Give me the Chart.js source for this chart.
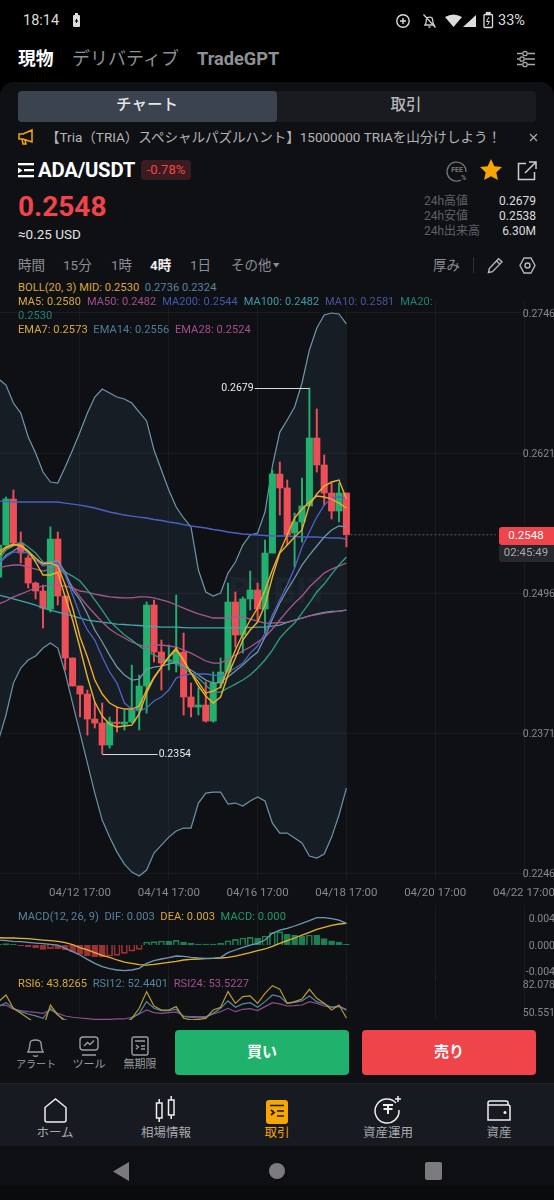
<!DOCTYPE html>
<html lang="ja"><head><meta charset="utf-8">
<script src="https://cdn.jsdelivr.net/npm/chart.js@4"></script>
<style>
html,body{margin:0;padding:0;background:#000;}
body{width:554px;height:1200px;overflow:hidden;position:relative;font-family:Roboto,"Noto Sans CJK JP",sans-serif;color:#ddd;}
.abs{position:absolute}
.t{position:absolute;white-space:nowrap;transform:translateY(-50%);line-height:1.2}
.c{transform:translate(-50%,-50%);text-align:center}
.r{transform:translate(-100%,-50%)}
canvas{position:absolute;left:0;display:block}
svg{position:absolute;overflow:visible}
.ind{font-size:11.1px;letter-spacing:.05px}
</style></head><body>
<div class="abs" style="left:0;top:82px;width:554px;height:960px;background:#0f1014;border-radius:14px 14px 0 0"></div>

<div class="t" style="left:23px;top:21px;font-size:14.5px;color:#ddd">18:14</div>
<svg style="left:72px;top:13px" width="9" height="15"><rect x="1" y="2" width="7" height="12" rx="1" fill="#ddd"/><rect x="3" y="0" width="3" height="2" fill="#ddd"/><path d="M4.5 6v4M2.8 8h3.4" stroke="#000" stroke-width="1"/></svg>
<svg style="left:395px;top:13px" width="16" height="16" fill="none" stroke="#ddd" stroke-width="1.4"><circle cx="8" cy="8" r="6.2"/><path d="M8 5v6M5 8h6"/></svg>
<svg style="left:422px;top:13px" width="15" height="16" fill="none" stroke="#ccc" stroke-width="1.3"><path d="M3 12c1.5-2 1-4 1.500-6C5 3.500 10 3.500 10.500 6c.5 2 0 4 1.500 6zM6.500 14h2M1.500 1.500l12 13"/></svg>
<svg style="left:445px;top:14px" width="32" height="14"><path d="M0 3q8.500-5 17 0L8.500 13z" fill="#ddd"/><path d="M18 13L31 1v12z" fill="#ddd"/></svg>
<svg style="left:483px;top:12px" width="11" height="17" fill="none" stroke="#ddd" stroke-width="1.3"><rect x="1" y="2.500" width="8.500" height="13" rx="1"/><rect x="3.500" y=".5" width="3.500" height="2" fill="#ddd"/><path d="M6 5L3.500 9.500h3L4.500 13" stroke-width="1"/></svg>
<div class="t" style="left:498px;top:21px;font-size:14.5px;color:#ddd">33%</div>

<div class="t" style="left:18px;top:59px;font-size:17.8px;font-weight:700;color:#fff">現物</div>
<div class="t" style="left:72px;top:59px;font-size:18px;color:#8e9096">デリバティブ</div>
<div class="t" style="left:197px;top:59px;font-size:18.2px;font-weight:700;color:#8e9096">TradeGPT</div>
<svg style="left:517px;top:50px" width="18" height="18" fill="none" stroke="#aaa" stroke-width="1.300"><path d="M0 3.500h5M11 3.500h7M0 9h2M8 9h10M0 14.500h5M11 14.500h7"/><circle cx="8" cy="3.500" r="2.200"/><circle cx="5" cy="9" r="2.200"/><circle cx="8" cy="14.500" r="2.200"/></svg>

<div class="abs" style="left:18px;top:91px;width:518px;height:31px;background:#191b21;border-radius:4px"></div>
<div class="abs" style="left:18px;top:91px;width:259px;height:31px;background:#3b434e;border-radius:4px"></div>
<div class="t c" style="left:147px;top:105px;font-size:15.5px;font-weight:500;color:#e6e6e6">チャート</div>
<div class="t c" style="left:406px;top:105px;font-size:15.5px;font-weight:500;color:#b5b7bb">取引</div>

<svg style="left:18px;top:129px" width="16" height="16" fill="none" stroke="#f7a600" stroke-width="1.500"><path d="M1 5h4l9-4v12L5 10H1zM4 10l1 5h3l-1-4"/></svg>
<div class="t" style="left:46px;top:137px;font-size:13.55px;color:#b4b5b8;letter-spacing:-.02px">【Tria（TRIA）スペシャルパズルハント】15000000 TRIAを山分けしよう！</div>
<svg style="left:529px;top:133px" width="9" height="9" stroke="#aaa" stroke-width="1.200"><path d="M1 1l7 7M8 1L1 8"/></svg>

<svg style="left:18px;top:163px" width="16" height="15" fill="#fff"><rect x="0" y="0" width="16" height="2.300"/><rect x="6" y="6" width="10" height="2.300"/><path d="M0 4.500l4.500 3-4.500 3z"/><rect x="0" y="12" width="16" height="2.300"/></svg>
<div class="t" style="left:38px;top:170px;font-size:20.3px;font-weight:700;color:#fff;letter-spacing:-.2px">ADA/USDT</div>
<div class="abs" style="left:141px;top:160px;width:50px;height:20px;background:#3a1c20;border-radius:4px"></div>
<div class="t c" style="left:166px;top:170px;font-size:13px;color:#ef454a">-0.78%</div>
<svg style="left:446px;top:160px" width="22" height="22" fill="none" stroke="#777" stroke-width="1.300"><path d="M15 20a9.500 9.500 0 1 1 5-8"/></svg>
<div class="t c" style="left:457px;top:170px;font-size:7px;font-weight:700;color:#777">FEE</div>
<div class="t" style="left:461px;top:178px;font-size:7px;font-weight:700;color:#777">%</div>
<svg style="left:480px;top:159px" width="22" height="22" fill="#f7a600"><path d="M11 0l3.300 7.200 7.700.9-5.700 5.300 1.600 7.700L11 17.200 4.100 21.100l1.600-7.700L0 8.100l7.700-.9z"/></svg>
<svg style="left:517px;top:161px" width="20" height="20" fill="none" stroke="#ccc" stroke-width="1.500"><path d="M9 2.500H1.500v16h16V11M12 1h7v7M19 1L8 12"/></svg>

<div class="t" style="left:18px;top:207px;font-size:28px;font-weight:700;color:#ef454a">0.2548</div>
<div class="t" style="left:18px;top:234px;font-size:13.500px;color:#e2e2e2">≈0.25 USD</div>
<div class="t" style="left:424px;top:201px;font-size:12px;color:#5e6066">24h高値</div>
<div class="t" style="left:424px;top:216px;font-size:12px;color:#5e6066">24h安値</div>
<div class="t" style="left:424px;top:231px;font-size:12px;color:#5e6066">24h出来高</div>
<div class="t r" style="left:536px;top:201px;font-size:12px;color:#ddd">0.2679</div>
<div class="t r" style="left:536px;top:216px;font-size:12px;color:#ddd">0.2538</div>
<div class="t r" style="left:536px;top:231px;font-size:12px;color:#ddd">6.30M</div>

<div class="t" style="left:18px;top:265px;font-size:13.500px;color:#8b8e94">時間</div>
<div class="t" style="left:63px;top:265px;font-size:13.500px;color:#8b8e94">15分</div>
<div class="t" style="left:111px;top:265px;font-size:13.500px;color:#8b8e94">1時</div>
<div class="t" style="left:150px;top:265px;font-size:13.500px;font-weight:700;color:#eee">4時</div>
<div class="t" style="left:190px;top:265px;font-size:13.500px;color:#8b8e94">1日</div>
<div class="t" style="left:231px;top:265px;font-size:13.500px;color:#8b8e94">その他</div>
<svg style="left:273px;top:263px" width="7" height="5" fill="#8b8e94"><path d="M0 0h6.500L3.200 4.500z"/></svg>
<div class="t" style="left:433px;top:265px;font-size:13.500px;color:#8b8e94">厚み</div>
<div class="abs" style="left:473px;top:257px;width:1px;height:16px;background:#2b2d33"></div>
<svg style="left:487px;top:257px" width="17" height="17" fill="none" stroke="#b5b7bb" stroke-width="1.400"><path d="M1.500 15.500l.8-4L11.500 1.700l3.500 3.200-9.500 9.800zM9.500 4l3.500 3.200"/></svg>
<svg style="left:519px;top:257px" width="17" height="17" fill="none" stroke="#b5b7bb" stroke-width="1.400"><path d="M5 1h7l4 7.500-4 7.500H5L1 8.500z"/><circle cx="8.500" cy="8.500" r="2.500"/></svg>

<div class="t" style="left:228px;top:592px;font-size:36px;font-weight:900;color:rgba(255,255,255,.035)">BYBIT</div>

<canvas id="mainChart" width="554" height="600" style="top:300px"></canvas>
<canvas id="macdChart" width="554" height="75" style="top:905px"></canvas>
<canvas id="rsiChart" width="554" height="50" style="top:975px"></canvas>

<div class="t ind" style="left:18px;top:288px"><span style="color:#d9a93a">BOLL(20, 3) MID: 0.2530</span>&nbsp; <span style="color:#53849f">0.2736 0.2324</span></div>
<div class="t ind" style="left:18px;top:302px;font-size:11px;word-spacing:.2px"><span style="color:#d9a93a">MA5: 0.2580</span>&nbsp; <span style="color:#a54e8f">MA50: 0.2482</span>&nbsp; <span style="color:#3f5ab0">MA200: 0.2544</span>&nbsp; <span style="color:#3f9aa8">MA100: 0.2482</span>&nbsp; <span style="color:#47559f">MA10: 0.2581</span>&nbsp; <span style="color:#1f8473">MA20:</span></div>
<div class="t ind" style="left:18px;top:316px;color:#1f8473">0.2530</div>
<div class="t ind" style="left:18px;top:330px"><span style="color:#d9a93a">EMA7: 0.2573</span>&nbsp; <span style="color:#4f7d96">EMA14: 0.2556</span>&nbsp; <span style="color:#a54e8f">EMA28: 0.2524</span></div>
<div class="t ind" style="left:18px;top:917px"><span style="color:#53849f">MACD(12, 26, 9)&nbsp; DIF: 0.003</span>&nbsp; <span style="color:#d9a93a">DEA: 0.003</span>&nbsp; <span style="color:#1f9a6a">MACD: 0.000</span></div>
<div class="t ind" style="left:18px;top:984px"><span style="color:#d9a93a">RSI6: 43.8265</span>&nbsp; <span style="color:#53849f">RSI12: 52.4401</span>&nbsp; <span style="color:#a54e8f">RSI24: 53.5227</span></div>

<div class="abs" style="left:499px;top:527px;width:55px;height:18px;background:#ef454a;border-radius:3px 0 0 3px"></div>
<div class="t c" style="left:526px;top:536px;font-size:11.500px;color:#fff">0.2548</div>
<div class="abs" style="left:499px;top:545px;width:55px;height:17px;background:#26282e;border-radius:0 0 0 3px"></div>
<div class="t c" style="left:526px;top:553px;font-size:11.500px;color:#a8aaae">02:45:49</div>

<div class="abs" style="left:0;top:1020px;width:554px;height:63px;background:#0f1014"></div>
<svg style="left:26px;top:1035px" width="20" height="24" fill="none" stroke="#9a9ca1" stroke-width="1.400"><path d="M2 17c2-3 1.500-6 2-9 .7-4 10.300-4 11 0 .5 3 0 6 2 9zM7 20.500q2.500 1.500 5 0"/></svg>
<div class="t c" style="left:36px;top:1065px;font-size:10px;color:#9a9ca1">アラート</div>
<svg style="left:79px;top:1036px" width="20" height="22" fill="none" stroke="#9a9ca1" stroke-width="1.400"><rect x="1" y="1" width="18" height="13" rx="3"/><path d="M5 10l3.500-3.500 2.500 2 4-4M3 19h14"/></svg>
<div class="t c" style="left:89px;top:1065px;font-size:11px;color:#9a9ca1">ツール</div>
<svg style="left:131px;top:1036px" width="18" height="20" fill="none" stroke="#9a9ca1" stroke-width="1.400"><rect x="1" y="1" width="16" height="18" rx="2"/><path d="M4 5h10M5 9l2.500 2L5 13M10 10h4M10 13h4"/></svg>
<div class="t c" style="left:140px;top:1065px;font-size:11px;color:#9a9ca1">無期限</div>
<div class="abs" style="left:175px;top:1030px;width:174px;height:45px;background:#20b26c;border-radius:4px"></div>
<div class="t c" style="left:262px;top:1052px;font-size:15px;font-weight:700;color:#fff">買い</div>
<div class="abs" style="left:362px;top:1030px;width:174px;height:45px;background:#ef454a;border-radius:4px"></div>
<div class="t c" style="left:449px;top:1052px;font-size:15px;font-weight:700;color:#fff">売り</div>

<div class="abs" style="left:0;top:1083px;width:554px;height:63px;background:#171a21;border-top:1px solid #22252c;box-sizing:border-box"></div>
<svg style="left:44px;top:1098px" width="23" height="26" fill="none" stroke="#eee" stroke-width="1.500"><path d="M1 9.500L11.500 1 22 9.500V22a2 2 0 0 1-2 2H3a2 2 0 0 1-2-2z"/></svg>
<div class="t c" style="left:55px;top:1132px;font-size:12.500px;color:#a8aaae">ホーム</div>
<svg style="left:155px;top:1096px" width="22" height="28" fill="none" stroke="#eee" stroke-width="1.500"><rect x="1.500" y="7" width="5.500" height="15"/><path d="M4.200 3v4M4.200 22v4"/><rect x="13.500" y="4" width="5.500" height="15"/><path d="M16.200 0v4M16.200 19v4"/></svg>
<div class="t c" style="left:166px;top:1132px;font-size:12.500px;color:#a8aaae">相場情報</div>
<div class="abs" style="left:266px;top:1100px;width:22px;height:24px;background:#f7a600;border-radius:3px"></div>
<svg style="left:266px;top:1100px" width="22" height="24" fill="none" stroke="#17191f" stroke-width="1.700"><path d="M4 5.500h14M5 10l3 2.500L5 15M11 11h7M11 16h7"/></svg>
<div class="t c" style="left:277px;top:1132px;font-size:12.500px;color:#f7a600">取引</div>
<svg style="left:375px;top:1096px" width="28" height="28" fill="none" stroke="#eee" stroke-width="1.500"><path d="M21 7a12 12 0 1 0 3 7"/><path d="M8 9h10M13 9v9M8.500 13h9" stroke-width="2"/><path d="M23 0v6M20 3h6"/></svg>
<div class="t c" style="left:388px;top:1132px;font-size:12.500px;color:#a8aaae">資産運用</div>
<svg style="left:487px;top:1100px" width="24" height="22" fill="none" stroke="#eee" stroke-width="1.500"><path d="M1 5V3a2 2 0 0 1 2-2h16a2 2 0 0 1 2 2v2M1 5h20a2 2 0 0 1 2 2v13H1z"/><circle cx="18" cy="12.500" r=".8" fill="#eee"/></svg>
<div class="t c" style="left:499px;top:1132px;font-size:12.500px;color:#a8aaae">資産</div>

<div class="abs" style="left:0;top:1146px;width:554px;height:40px;background:#0e0f13"></div>
<div class="abs" style="left:0;top:1186px;width:554px;height:14px;background:#0a0b0d"></div>
<svg style="left:113px;top:1162px" width="16" height="19" fill="#7b7b7d"><path d="M16 0v19L0 9.500z"/></svg>
<svg style="left:269px;top:1163px" width="17" height="17" fill="#7b7b7d"><circle cx="8" cy="8" r="8"/></svg>
<svg style="left:425px;top:1162px" width="17" height="18" fill="#7b7b7d"><rect width="17" height="18" rx="2"/></svg>

<script>
/* ---------- data ---------- */
const candleIndex=[-1,0,1,2,3,4,5,6,7,8,9,10,11,12,13,14,15,16,17,18,19,20,21,22,23,24,25,26,27,28,29,30,31,32,33,34,35,36,37,38,39,40,41,42,43,44,45,46];
const timeTickIndex=[10,22,34,46,58,70];
const timeTickLabels=["04/12 17:00","04/14 17:00","04/16 17:00","04/18 17:00","04/20 17:00","04/22 17:00"];
const priceTicks=[0.2746,0.2621,0.2496,0.2371,0.2246];
const macdTicks=[0.004,0,-0.004];
const rsiTicks=[82.078,50.551];

const open=[.25102,.25388,.25799,.25406,.25273,.25049,.24978,.24817,.25442,.24933,.24380,.24130,.24058,.23835,.23799,.23603,.23808,.23790,.23808,.23915,.24130,.24853,.24433,.24353,.24335,.24433,.24032,.23942,.23960,.23817,.24156,.24255,.24880,.24585,.24907,.24987,.24817,.25317,.26022,.25898,.25496,.25594,.25737,.26344,.26103,.25853,.25692,.25853];
const close=[.25388,.25799,.25406,.25317,.25049,.24978,.24826,.25442,.24933,.24380,.24130,.24058,.23835,.23799,.23603,.23808,.23795,.23808,.23915,.24130,.24853,.24433,.24335,.24362,.24424,.24032,.23942,.23960,.23817,.24156,.24255,.24880,.24585,.24907,.24987,.24817,.25317,.26022,.25898,.25478,.25594,.25737,.26344,.26103,.25853,.25692,.25853,.25480];
const high=[.25406,.25817,.25880,.25505,.25299,.25058,.25031,.25550,.25505,.24933,.24380,.24130,.24094,.23987,.23978,.23853,.23942,.23915,.24317,.24228,.24880,.24898,.24540,.24496,.24942,.24603,.24156,.24112,.24165,.24255,.24380,.25049,.24969,.24925,.25156,.25049,.25433,.26058,.26130,.25969,.25674,.25987,.26790,.26603,.26192,.25942,.25942,.25853];
const low=[.25076,.25388,.25406,.25228,.25005,.24907,.24648,.24790,.24853,.24273,.24130,.23853,.23692,.23755,.23525,.23576,.23719,.23737,.23800,.23737,.23888,.24344,.24094,.24273,.24255,.23871,.23853,.23871,.23808,.23808,.24112,.24255,.24478,.24424,.24808,.24719,.24603,.25317,.25656,.25388,.25192,.25415,.25737,.26040,.25745,.25621,.25594,.25371];

const bollUpper=[.26871,.26817,.26656,.26567,.26353,.26210,.26040,.25951,.25942,.26085,.26237,.26397,.26567,.26710,.26781,.26746,.26710,.26692,.26656,.26576,.26496,.26237,.26058,.25880,.25728,.25630,.25550,.25165,.24969,.24933,.24960,.25138,.25237,.25388,.25478,.25496,.25683,.26094,.26397,.26505,.26621,.26835,.27130,.27326,.27442,.27460,.27451,.27362];
const bollLower=[.23648,.23871,.24156,.24290,.24362,.24398,.24469,.24514,.24469,.24246,.23978,.23710,.23442,.23174,.22933,.22781,.22647,.22540,.22469,.22433,.22487,.22639,.22710,.22781,.22835,.22862,.22862,.23085,.23174,.23183,.23183,.23076,.23085,.23058,.23103,.23139,.23103,.22906,.22817,.22817,.22772,.22728,.22612,.22594,.22630,.22781,.22978,.23219];
const ma5=[.25291,.25362,.25388,.25388,.25335,.25237,.25121,.25121,.25147,.24925,.24719,.24469,.24210,.23987,.23862,.23790,.23764,.23773,.23781,.23880,.24067,.24201,.24299,.24389,.24469,.24353,.24246,.24130,.24041,.23978,.24032,.24228,.24380,.24540,.24630,.24701,.24853,.25103,.25317,.25388,.25460,.25523,.25745,.25844,.25915,.25951,.25969,.25799];
const ma10=[.25228,.25282,.25326,.25326,.25317,.25255,.25201,.25219,.25228,.25121,.24942,.24764,.24630,.24540,.24389,.24255,.24156,.23978,.23924,.23906,.23933,.23996,.24032,.24094,.24201,.24228,.24237,.24237,.24237,.24228,.24219,.24255,.24291,.24335,.24424,.24487,.24603,.24764,.24898,.25031,.25183,.25371,.25505,.25638,.25745,.25808,.25817,.25808];
const ma20=[.25255,.25344,.25380,.25415,.25371,.25317,.25237,.25210,.25192,.25147,.25111,.25067,.24987,.24898,.24808,.24710,.24648,.24585,.24540,.24487,.24442,.24406,.24380,.24353,.24326,.24291,.24246,.24201,.24138,.24076,.24076,.24112,.24147,.24183,.24228,.24291,.24362,.24451,.24558,.24630,.24692,.24781,.24871,.24969,.25040,.25129,.25210,.25282];
const ma50=[.24862,.24889,.24925,.24951,.24978,.25005,.25022,.25031,.25031,.25022,.25005,.24978,.24969,.24951,.24938,.24925,.24920,.24916,.24916,.24925,.24925,.24916,.24898,.24880,.24853,.24826,.24799,.24773,.24755,.24737,.24737,.24737,.24746,.24746,.24728,.24710,.24692,.24692,.24697,.24701,.24715,.24737,.24755,.24768,.24781,.24790,.24799,.24808];
const ma100=[.24942,.24925,.24907,.24889,.24871,.24853,.24826,.24808,.24790,.24773,.24755,.24737,.24719,.24710,.24701,.24692,.24683,.24679,.24674,.24670,.24665,.24661,.24656,.24656,.24656,.24652,.24648,.24648,.24648,.24648,.24648,.24648,.24648,.24652,.24652,.24656,.24656,.24665,.24674,.24697,.24719,.24737,.24755,.24773,.24786,.24795,.24799,.24808];
const ma200=[.25781,.25777,.25772,.25772,.25772,.25772,.25772,.25772,.25772,.25763,.25754,.25745,.25732,.25719,.25701,.25683,.25670,.25656,.25647,.25638,.25630,.25616,.25607,.25594,.25585,.25571,.25558,.25550,.25541,.25527,.25518,.25505,.25496,.25487,.25482,.25478,.25473,.25469,.25469,.25469,.25464,.25460,.25460,.25460,.25455,.25451,.25451,.25442];
const ema7=[.25326,.25371,.25397,.25380,.25335,.25273,.25219,.25228,.25201,.25031,.24826,.24567,.24389,.24183,.24058,.23978,.23942,.23924,.23924,.23951,.24094,.24210,.24299,.24389,.24451,.24362,.24246,.24165,.24067,.24085,.24121,.24291,.24451,.24594,.24719,.24826,.24987,.25165,.25326,.25478,.25630,.25710,.25772,.25826,.25817,.25799,.25763,.25719];
const ema14=[.25210,.25299,.25335,.25380,.25317,.25255,.25228,.25237,.25246,.25147,.24987,.24898,.24773,.24630,.24523,.24406,.24299,.24228,.24183,.24192,.24281,.24299,.24308,.24326,.24344,.24308,.24273,.24228,.24183,.24156,.24165,.24210,.24264,.24317,.24380,.24433,.24567,.24728,.24871,.24987,.25094,.25210,.25299,.25380,.25460,.25523,.25558,.25550];
const ema28=[.25183,.25201,.25210,.25210,.25192,.25174,.25156,.25174,.25201,.25121,.25014,.24925,.24844,.24773,.24701,.24639,.24594,.24558,.24523,.24496,.24478,.24496,.24496,.24487,.24478,.24451,.24424,.24389,.24353,.24335,.24335,.24371,.24406,.24442,.24478,.24523,.24567,.24639,.24719,.24799,.24871,.24933,.25014,.25076,.25138,.25174,.25201,.25228];

const macdDif=[.00075,.00065,.00055,.00050,.00040,.00030,.00020,.00010,0,-.00050,-.00101,-.00151,-.00216,-.00277,-.00327,-.00357,-.00377,-.00387,-.00377,-.00352,-.00277,-.00236,-.00211,-.00191,-.00166,-.00171,-.00186,-.00196,-.00201,-.00201,-.00186,-.00116,-.00075,-.00035,0,.00025,.00075,.00176,.00226,.00252,.00287,.00327,.00367,.00412,.00412,.00397,.00377,.00327];
const macdDea=[.00111,.00106,.00106,.00101,.00096,.00086,.00075,.00065,.00055,.00035,.00005,-.00040,-.00075,-.00116,-.00156,-.00186,-.00226,-.00257,-.00277,-.00297,-.00302,-.00292,-.00277,-.00262,-.00246,-.00226,-.00216,-.00211,-.00206,-.00201,-.00196,-.00186,-.00166,-.00141,-.00116,-.00086,-.00060,-.00020,.00025,.00065,.00106,.00151,.00191,.00236,.00267,.00297,.00317,.00327];
const macdHist=[.00010,.00020,.00015,-.00015,-.00030,-.00045,-.00065,-.00055,-.00055,-.00075,-.00106,-.00141,-.00166,-.00176,-.00176,-.00166,-.00156,-.00126,-.00091,-.00065,.00045,.00050,.00060,.00060,.00070,.00045,.00025,.00015,.00015,.00015,.00025,.00065,.00086,.00106,.00116,.00106,.00136,.00186,.00201,.00161,.00146,.00136,.00151,.00146,.00096,.00065,.00045,.00010];

const rsi6=[62.2,69.7,54.7,49.0,43.4,37.8,32.2,58.4,47.2,39.7,32.2,28.4,28.4,26.5,28.4,30.3,28.4,30.3,43.4,54.7,73.5,57.3,52.8,52.8,56.6,43.4,41.6,42.3,43.4,52.8,55.8,73.5,60.3,67.8,68.6,60.3,71.6,80.2,76.1,60.3,62.2,65.2,76.1,65.9,60.3,52.8,58.4,43.83];
const rsi12=[56.6,61.1,54.7,50.9,48.3,46.1,43.4,54.7,47.2,41.6,39.7,37.0,35.9,34.8,35.9,37.0,37.0,37.8,43.4,49.0,62.2,54.7,52.1,52.1,53.6,45.3,44.6,43.8,44.6,49.0,54.7,63.0,55.8,59.6,61.1,55.8,62.2,69.7,67.8,60.3,61.4,63.0,68.6,62.2,59.6,55.8,57.3,52.44];
const rsi24=[58.4,58.1,53.6,52.1,50.9,50.2,49.0,52.8,49.0,46.0,44.6,43.8,43.0,42.3,42.3,42.3,42.7,42.7,44.6,48.3,52.8,49.8,49.0,49.8,50.6,46.0,45.3,45.3,45.3,48.3,50.9,54.7,50.9,53.6,54.3,52.1,56.6,61.1,59.6,57.3,57.7,58.4,62.2,60.3,57.3,55.8,56.6,53.52];

const highMark={index:41,value:0.2679,toIndex:33.6,text:"0.2679"};
const lowMark={index:13,value:0.23525,toIndex:20.5,text:"0.2354"};
const lastPrice=0.2548;

/* ---------- colours ---------- */
const GREEN="#22b06e",RED="#ec4f58",GRID="rgba(255,255,255,.045)",AXIS="#85888e";
const YEL="#e6b32c",YEL2="#f0a92a",STEEL="#6d97ab",PINK="#a9578f",TEAL="#2f9d83",BLUE="#4a62c4",VIOLET="#5062c8",CYAN="#3fa9ae";
Chart.defaults.font.family='Roboto,"Noto Sans CJK JP",sans-serif';
Chart.defaults.animation=false;

const XMIN=-0.8108,XMAX=74.054;
const pts=a=>a.map((v,i)=>({x:candleIndex[i],y:v}));
const line=(label,a,color,w,order,extra)=>Object.assign({type:'line',label,data:pts(a),borderColor:color,borderWidth:w,pointRadius:0,tension:0,fill:false,order},extra||{});
const xScale=(showLabels)=>({type:'linear',min:XMIN,max:XMAX,offset:false,
  grid:{offset:false,color:GRID,drawTicks:false,lineWidth:1},border:{display:false},
  afterBuildTicks:s=>{s.ticks=timeTickIndex.map(v=>({value:v}));},
  afterFit:s=>{s.paddingLeft=0;s.paddingRight=0;s.height=showLabels?20:0;},
  ticks:{display:showLabels,autoSkip:false,maxRotation:0,padding:6,color:AXIS,font:{size:11.5},
    callback:(v)=>timeTickLabels[timeTickIndex.indexOf(v)]||''}});
const yScale=(min,max,ticks,dec,hGrid)=>({type:'linear',position:'right',min,max,
  grid:{display:hGrid,color:GRID,drawTicks:false},border:{display:false},
  afterBuildTicks:s=>{s.ticks=ticks.map(v=>({value:v}));},
  afterFit:s=>{s.paddingTop=0;s.paddingBottom=0;s.width=0;},
  ticks:{mirror:true,padding:1,labelOffset:1,color:AXIS,font:{size:10.5},autoSkip:false,callback:v=>v.toFixed(dec)}});
const baseOpts=(x,y)=>({responsive:false,animation:false,events:[],
  layout:{padding:0,autoPadding:false},
  plugins:{legend:{display:false},tooltip:{enabled:false},title:{display:false}},
  scales:{x,y},datasets:{bar:{grouped:false}}});

const priceMarks={id:'priceMarks',afterDatasetsDraw(c){
  const {ctx,scales:{x,y}}=c;ctx.save();
  ctx.strokeStyle='#d8d8d8';ctx.lineWidth=1;ctx.fillStyle='#eaeaea';ctx.font='10.500px Roboto';ctx.textBaseline='middle';
  [[highMark,'right',-1],[lowMark,'left',1]].forEach(([m,al,d])=>{
    const py=Math.round(y.getPixelForValue(m.value))+.5,x0=x.getPixelForValue(m.index),x1=x.getPixelForValue(m.toIndex);
    ctx.beginPath();ctx.moveTo(x0,py);ctx.lineTo(x1,py);ctx.stroke();
    ctx.textAlign=al;ctx.fillText(m.text,x1+d,py);
  });
  ctx.restore();
}};

new Chart(document.getElementById('mainChart'),{type:'bar',
 data:{datasets:[
  line('MA5',ma5,YEL,1.4,1),
  line('EMA7',ema7,YEL2,1.4,2),
  line('MA10',ma10,VIOLET,1.3,3),
  line('EMA14',ema14,STEEL,1.3,4),
  line('MA20',ma20,TEAL,1.3,5),
  line('EMA28',ema28,PINK,1.3,6),
  line('MA50',ma50,PINK,1.3,7),
  line('MA100',ma100,CYAN,1.3,8),
  line('MA200',ma200,BLUE,1.4,9),
  {type:'line',label:'Last',data:[{x:46,y:lastPrice},{x:66.2,y:lastPrice}],borderColor:'#5a5c62',borderWidth:1,borderDash:[2,2],pointRadius:0,order:10},
  {type:'bar',label:'Body',data:candleIndex.map((k,i)=>({x:k,y:[open[i],close[i]]})),
    backgroundColor:close.map((c,i)=>c>=open[i]?GREEN:RED),borderWidth:0,barThickness:6.4,minBarLength:1.2,order:20},
  {type:'bar',label:'Wick',data:candleIndex.map((k,i)=>({x:k,y:[low[i],high[i]]})),
    backgroundColor:close.map((c,i)=>c>=open[i]?GREEN:RED),borderWidth:0,barThickness:1.3,order:21},
  line('BOLL UP',bollUpper,STEEL,1.2,30,{fill:'+1',backgroundColor:'rgba(74,112,140,.145)'}),
  line('BOLL DN',bollLower,STEEL,1.2,31)
 ]},
 options:baseOpts(xScale(true),yScale(.22398,.27576,priceTicks,4,true)),
 plugins:[priceMarks]});

new Chart(document.getElementById('macdChart'),{type:'bar',
 data:{datasets:[
  line('DIF',macdDif,'#6d9ab5',1.3,1),
  line('DEA',macdDea,YEL,1.3,2),
  {type:'bar',label:'MACD',data:candleIndex.map((k,i)=>({x:k,y:macdHist[i]})),barThickness:6,
    backgroundColor:macdHist.map((v,i)=>i>0&&v>macdHist[i-1]?'rgba(0,0,0,0)':(v>=0?'#1c7f52':'#9a3238')),
    borderColor:macdHist.map(v=>v>=0?'#1c7f52':'#9a3238'),borderWidth:1,order:5}
 ]},
 options:baseOpts(xScale(false),yScale(-.00528,.00604,macdTicks,3,false))});

new Chart(document.getElementById('rsiChart'),{type:'line',
 data:{datasets:[
  line('RSI6',rsi6,'#b79a3a',1.2,1),
  line('RSI12',rsi12,'#5b86a0',1.2,2),
  line('RSI24',rsi24,'#8e4f88',1.2,3)
 ]},
 options:baseOpts(xScale(false),yScale(35.9,92.2,rsiTicks,3,false))});
</script>
</body></html>
